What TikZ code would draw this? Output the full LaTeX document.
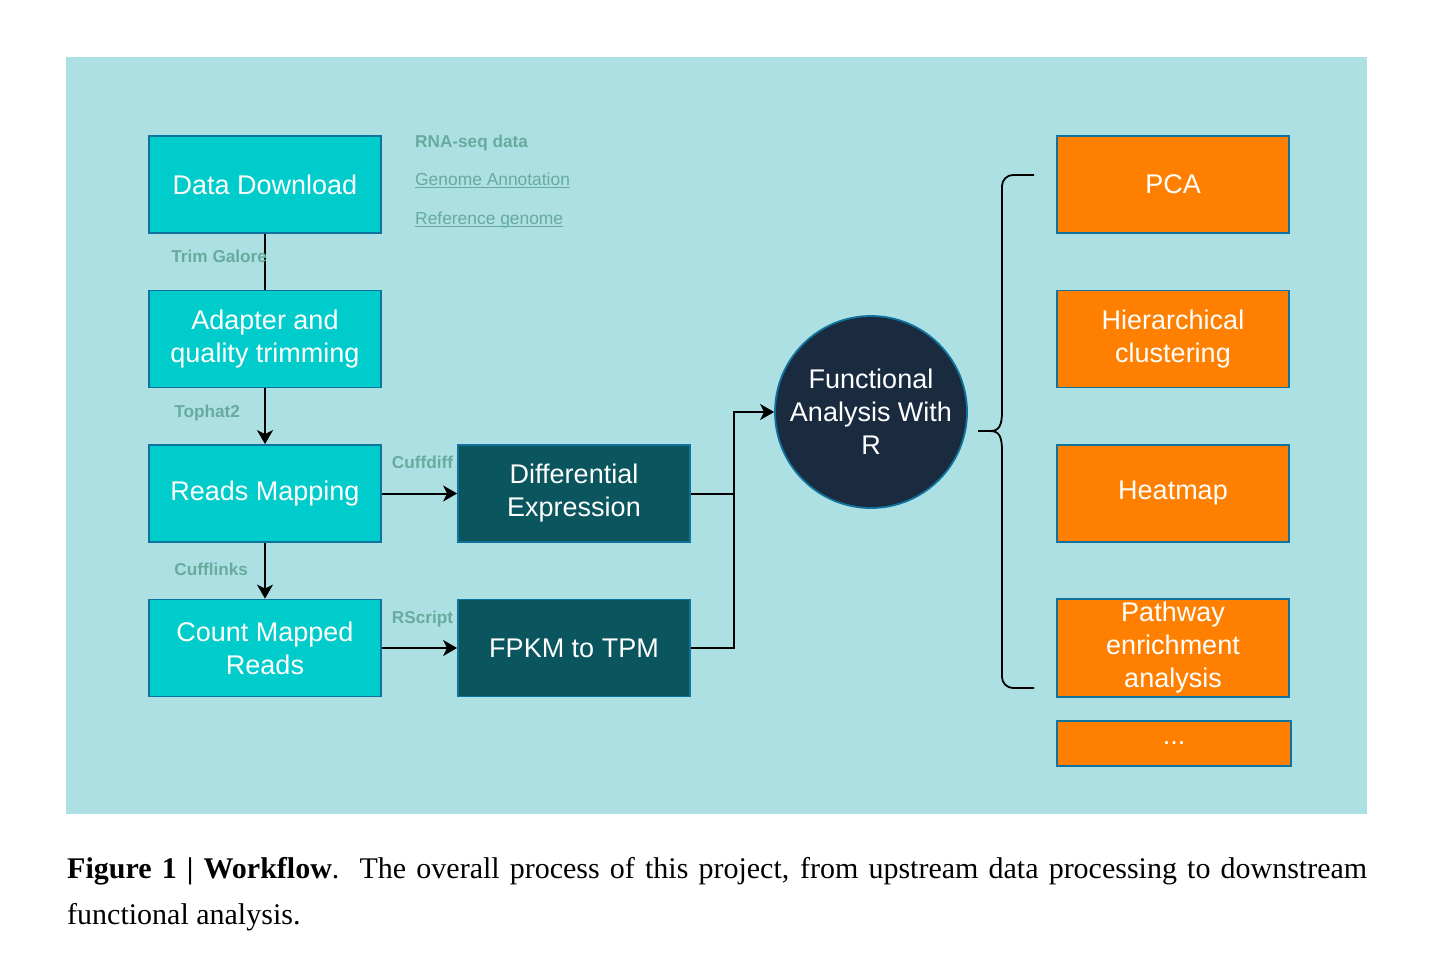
\documentclass[tikz,border=0pt]{standalone}
\usepackage{fontspec}
\setmainfont{Liberation Serif}
\newfontfamily\diagfont{Liberation Sans}
\usepackage{tikz}
\usetikzlibrary{shapes,arrows.meta,positioning,calc}
\usepackage{xcolor}
\definecolor{bgcolor}{RGB}{173, 224, 226}
\definecolor{stepcolor}{RGB}{0, 204, 204}
\definecolor{edgecolor}{RGB}{16, 115, 158}
\definecolor{darkcolor}{RGB}{11, 85, 94}
\definecolor{circlecolor}{RGB}{26, 43, 63}
\definecolor{outcolor}{RGB}{255, 128, 0}
\definecolor{toolcolor}{RGB}{103, 171, 159}
\newcommand{\linktext}[1]{\setbox0\hbox{#1}\rlap{\rule[-3.2pt]{\wd0}{1.5pt}}\box0}

\begin{document}
\begin{tikzpicture}[x=1pt, y=-1pt,
    stepbox/.style={rectangle, draw=edgecolor, line width=1.8pt, fill=stepcolor, minimum width=232pt, minimum height=97pt, align=center, text=white, font=\diagfont\fontsize{27}{33}\selectfont},
    darkbox/.style={stepbox, fill=darkcolor},
    outbox/.style={stepbox, fill=outcolor},
    tool/.style={inner sep=0pt, text depth=0pt, text=toolcolor, font=\diagfont\bfseries\fontsize{17.2}{20}\selectfont},
    source/.style={inner sep=0pt, anchor=base west, text=toolcolor, font=\diagfont\fontsize{17.4}{20}\selectfont},
    arrow/.style={-{Stealth[length=14pt, width=16pt, inset=4pt]}, line width=2pt},
    link/.style={line width=2pt}
]
    \useasboundingbox (0,0) rectangle (1449,970);
    \fill[bgcolor] (66,57) rectangle (1367,814);

    % Upstream steps
    \node[stepbox] (download) at (265,184.5) {Data Download};
    \node[stepbox] (trimming) at (265,339) {Adapter and\\quality trimming};
    \node[stepbox] (mapping) at (265,493.5) {Reads Mapping};
    \node[stepbox] (counting) at (265,648) {Count Mapped\\Reads};

    \node[darkbox] (diffexpr) at (574,493.5) {Differential\\Expression};
    \node[darkbox] (tpm) at (574,648) {FPKM to TPM};

    \node[circle, draw=edgecolor, line width=1.8pt, fill=circlecolor, minimum size=192pt, inner sep=0pt, align=center, text=white, font=\diagfont\fontsize{27}{33}\selectfont] (funcr) at (871,412) {Functional\\Analysis With\\R};

    % Downstream analyses
    \node[outbox] (pca) at (1173,184.5) {PCA};
    \node[outbox] (hclust) at (1173,339) {Hierarchical\\clustering};
    \node[outbox] (heatmap) at (1173,493.5) {Heatmap};
    \node[outbox] (pathway) at (1173,648) {Pathway\\enrichment\\analysis};
    \node[outbox, minimum width=234pt, minimum height=45pt] (more) at (1174,743.5) {...};

    % Data sources
    \node[source, font=\diagfont\bfseries\fontsize{17.2}{20}\selectfont] (rnaseq) at (415,147) {RNA-seq data};
    \node[source] (annot) at (415,185) {\linktext{Genome Annotation}};
    \node[source] (refgen) at (415,224) {\linktext{Reference genome}};

    % Connectors
    \draw[link] (download.south) -- node[tool, pos=0.41, anchor=east, xshift=3pt] {Trim Galore} (trimming.north);
    \draw[arrow] (trimming.south) -- node[tool, pos=0.41, anchor=east, xshift=-24pt] {Tophat2} (mapping.north);
    \draw[arrow] (mapping.south) -- node[tool, pos=0.47, anchor=east, xshift=-16pt] {Cufflinks} (counting.north);
    \draw[arrow] (mapping.east) -- node[tool, midway, above=24pt, xshift=3pt] {Cuffdiff} (diffexpr.west);
    \draw[arrow] (counting.east) -- node[tool, midway, above=24pt, xshift=3pt] {RScript} (tpm.west);
    \coordinate (join) at ($(diffexpr.east)+(43,0)$);
    \draw[arrow] (diffexpr.east) -- (join) |- (funcr.west);
    \draw[link] (tpm.east) -| (join);

    % Brace
    \coordinate (tip) at (978,431);
    \coordinate (top) at (1034,175);
    \coordinate (bottom) at (1034,688);
    \draw[line width=1.8pt, rounded corners=11pt] (top) -- (1002,175) -- (1002,412);
    \draw[line width=1.8pt] (1002,411) .. controls (1002,426) and (999,431) .. (990,431) -- (tip);
    \draw[line width=1.8pt, rounded corners=11pt] (bottom) -- (1002,688) -- (1002,450);
    \draw[line width=1.8pt] (1002,451) .. controls (1002,436) and (999,431) .. (990,431);

    % Caption
    \node[anchor=north west, inner sep=0pt, text width=1300pt, align=justify, font=\fontsize{30}{46}\selectfont] (caption) at (67,857)
        {\textbf{Figure 1 | Workflow}.\ \ The overall process of this project, from upstream data processing to downstream functional analysis.};
\end{tikzpicture}
\end{document}
